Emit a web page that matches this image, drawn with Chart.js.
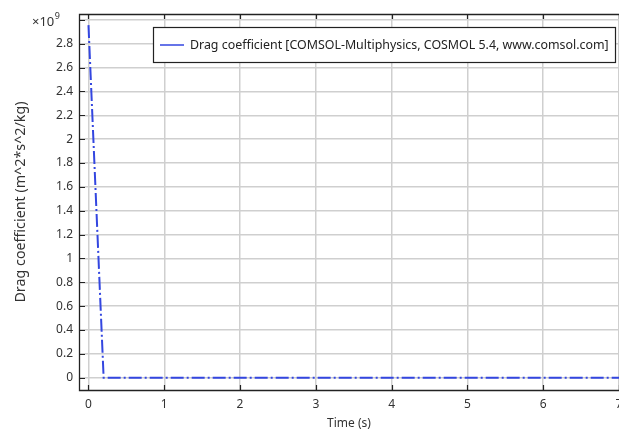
<!DOCTYPE html>
<html>
<head>
<meta charset="utf-8">
<script src="https://cdn.jsdelivr.net/npm/chart.js@4/dist/chart.umd.min.js"></script>
<style>
  html, body { margin: 0; padding: 0; background: #fff; }
  #wrap { width: 619px; height: 431px; }
</style>
</head>
<body>
<div id="wrap"><canvas id="dragChart" width="619" height="431"></canvas></div>
<script>
// ---- data ----
const times = [0, 0.2, 1, 2, 3, 4, 5, 6, 7];
const dragCoeff = [2.956e9, 0, 0, 0, 0, 0, 0, 0, 0];

const xTicks = [0, 1, 2, 3, 4, 5, 6, 7];
const yTicks = [0, 0.2e9, 0.4e9, 0.6e9, 0.8e9, 1e9, 1.2e9, 1.4e9, 1.6e9, 1.8e9, 2e9, 2.2e9, 2.4e9, 2.6e9, 2.8e9, 3e9];
const yTickLabels = ["0", "0.2", "0.4", "0.6", "0.8", "1", "1.2", "1.4", "1.6", "1.8", "2", "2.2", "2.4", "2.6", "2.8", ""];

const legendText = "Drag coefficient [COMSOL-Multiphysics, COSMOL 5.4, www.comsol.com]";
const yTitle = "Drag coefficient (m^2*s^2/kg)";
const xTitle = "Time (s)";
const lineColor = "#3346e0";
const FAMILY = "'Noto Sans', sans-serif";

// font size that makes a text about as wide as in the reference
function fitSize(text, width) {
    const c = document.createElement("canvas").getContext("2d");
    c.font = "100px " + FAMILY;
    return Math.round(100 * width / c.measureText(text).width * 10) / 10;
}
const legendSize = fitSize(legendText, 418);
const yTitleSize = fitSize("Drag coefficient", 106);

// frame, inner tick marks, x10^9 label, legend box
const frame = {
    id: "frame",
    afterDatasetsDraw(chart) {
        const { ctx, chartArea: a, scales } = chart;
        ctx.save();

        ctx.strokeStyle = "#222";
        ctx.lineWidth = 1.2;
        ctx.beginPath();
        xTicks.forEach(v => {
            const x = Math.round(scales.x.getPixelForValue(v)) + 0.5;
            ctx.moveTo(x, a.bottom); ctx.lineTo(x, a.bottom - 5);
            ctx.moveTo(x, a.top); ctx.lineTo(x, a.top + 5);
        });
        yTicks.forEach(v => {
            const y = Math.round(scales.y.getPixelForValue(v)) + 0.5;
            ctx.moveTo(a.left, y); ctx.lineTo(a.left + 6, y);
        });
        ctx.stroke();

        ctx.lineWidth = 1.3;
        ctx.beginPath();
        ctx.moveTo(a.right + 1, a.top + 0.5);
        ctx.lineTo(a.left + 0.5, a.top + 0.5);
        ctx.lineTo(a.left + 0.5, a.bottom + 0.5);
        ctx.lineTo(a.right + 1, a.bottom + 0.5);
        ctx.stroke();

        // exponent label
        ctx.fillStyle = "#333";
        ctx.textBaseline = "middle";
        ctx.textAlign = "left";
        ctx.font = "13px " + FAMILY;
        ctx.fillText("\u00d710", 32, 22);
        const w = ctx.measureText("\u00d710").width;
        ctx.font = "9px " + FAMILY;
        ctx.fillText("9", 32 + w + 0.5, 16);

        // legend
        const lx = 153.5, ly = 27.5, lw = 462, lh = 35;
        ctx.fillStyle = "#fff";
        ctx.fillRect(lx, ly, lw, lh);
        ctx.strokeStyle = "#222";
        ctx.lineWidth = 1.2;
        ctx.strokeRect(lx, ly, lw, lh);
        ctx.strokeStyle = lineColor;
        ctx.lineWidth = 1.5;
        ctx.beginPath();
        ctx.moveTo(160, ly + lh / 2);
        ctx.lineTo(184, ly + lh / 2);
        ctx.stroke();
        ctx.fillStyle = "#222";
        ctx.font = legendSize + "px " + FAMILY;
        ctx.fillText(legendText, 190, ly + lh / 2 + 0.5);

        ctx.restore();
    }
};

new Chart(document.getElementById("dragChart").getContext("2d"), {
    type: "line",
    data: {
        datasets: [{
            label: legendText,
            data: times.map((t, i) => ({ x: t, y: dragCoeff[i] })),
            borderColor: lineColor,
            borderWidth: 2,
            borderDash: [13, 3, 2, 3],
            pointRadius: 0,
            tension: 0,
            fill: false
        }]
    },
    options: {
        responsive: false,
        animation: false,
        layout: { padding: { top: 14, right: 0, left: 0, bottom: 0 } },
        plugins: {
            legend: { display: false },
            tooltip: { enabled: false }
        },
        scales: {
            x: {
                type: "linear",
                min: -0.125,
                max: 7.0,
                afterBuildTicks: s => { s.ticks = xTicks.map(v => ({ value: v })); },
                afterFit: s => { s.height = 41; s.paddingLeft = 0; s.paddingRight = 0; },
                ticks: {
                    autoSkip: false,
                    maxRotation: 0,
                    padding: 7,
                    color: "#333",
                    font: { family: FAMILY, size: 12 },
                    callback: v => String(v)
                },
                grid: { color: "#cfcfcf", lineWidth: 1.5, drawTicks: false },
                border: { display: false },
                title: {
                    display: true,
                    text: xTitle,
                    color: "#333",
                    font: { family: FAMILY, size: 12 },
                    padding: { top: 0, bottom: 0 }
                }
            },
            y: {
                type: "linear",
                min: -0.103e9,
                max: 3.049e9,
                afterBuildTicks: s => { s.ticks = yTicks.map(v => ({ value: v })); },
                afterFit: s => { s.width = 79; s.paddingTop = 0; s.paddingBottom = 0; },
                ticks: {
                    autoSkip: false,
                    padding: 6,
                    color: "#333",
                    font: { family: FAMILY, size: 12 },
                    callback: v => yTickLabels[yTicks.indexOf(v)] ?? ""
                },
                grid: { color: "#cfcfcf", lineWidth: 1.5, drawTicks: false },
                border: { display: false },
                title: {
                    display: true,
                    text: yTitle,
                    color: "#333",
                    font: { family: FAMILY, size: yTitleSize },
                    padding: { top: 12, bottom: 0 }
                }
            }
        }
    },
    plugins: [frame]
});
</script>
</body>
</html>
